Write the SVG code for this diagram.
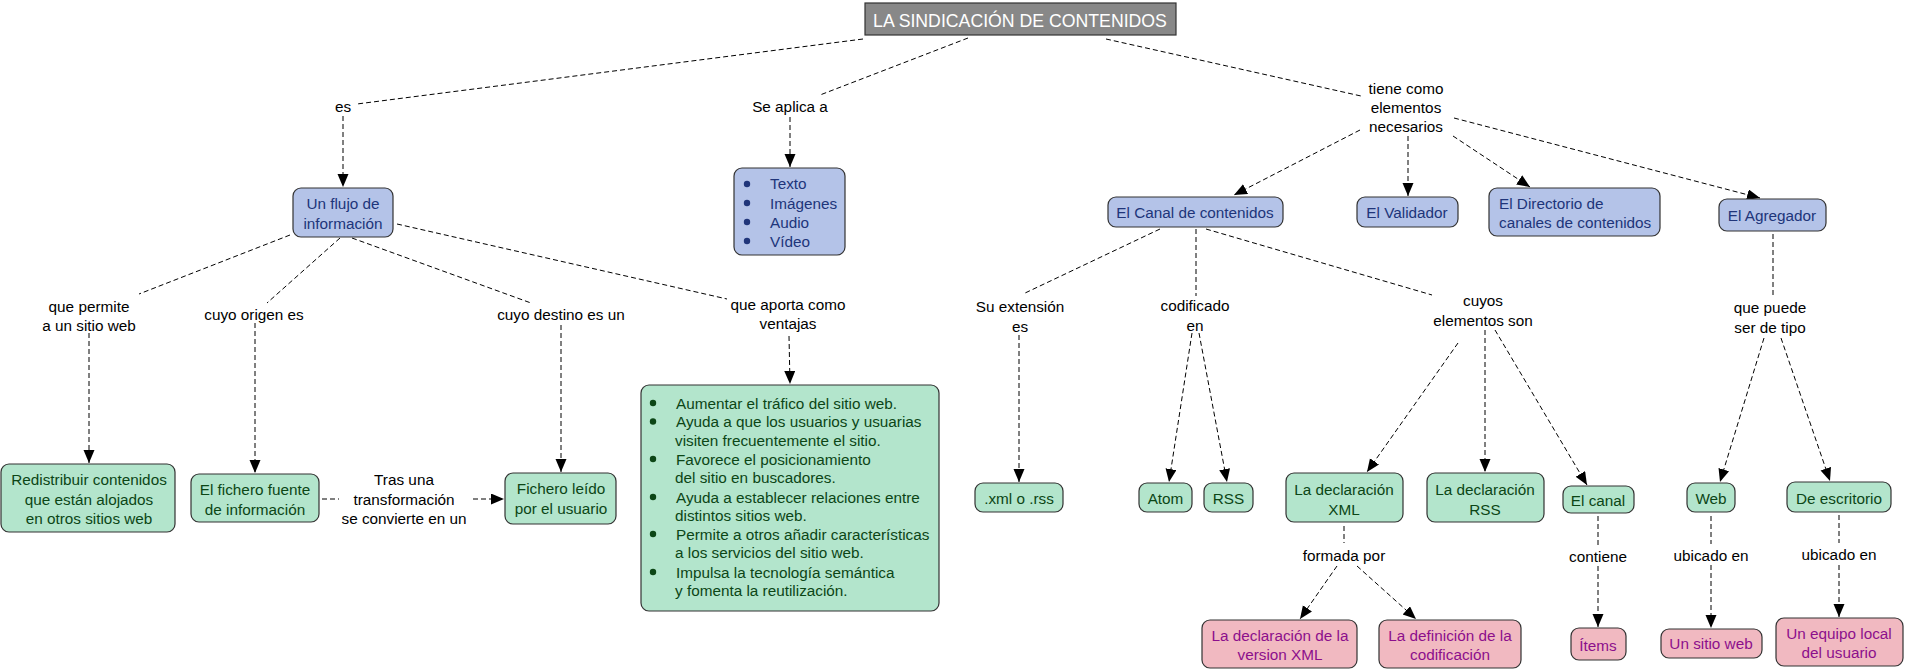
<svg xmlns="http://www.w3.org/2000/svg" width="1906" height="670" viewBox="0 0 1906 670">
<style>
text{font-family:"Liberation Sans",Arial,sans-serif;font-size:15.3px}
.m{text-anchor:middle}
.b rect{fill:#b4c3e8;stroke:#333;stroke-width:1.2}
.b text{fill:#20357a}
.b circle{fill:#20357a}
.g rect{fill:#b3e5cc;stroke:#333;stroke-width:1.2}
.g text{fill:#0c4616}
.g circle{fill:#0c4616}
.p rect{fill:#f1b9c1;stroke:#333;stroke-width:1.2}
.p text{fill:#8c0f8c}
.lk text{fill:#000}
#connectors line{stroke:#000;stroke-width:1;stroke-dasharray:5,3;fill:none}
#connectors line.a{marker-end:url(#ah)}
</style>
<defs>
<marker id="ah" markerUnits="userSpaceOnUse" markerWidth="14" markerHeight="12" refX="13" refY="5.5" orient="auto">
<path d="M0,0 L13,5.5 L0,11 z" fill="#000"/>
</marker>
</defs>
<rect width="1906" height="670" fill="#fff"/>
<g id="connectors">
<line x1="863" y1="39" x2="357" y2="104"/>
<line class="a" x1="343" y1="116" x2="343" y2="187"/>
<line x1="968" y1="38" x2="820" y2="95"/>
<line class="a" x1="790" y1="117" x2="790" y2="167"/>
<line x1="1106" y1="39" x2="1361" y2="96"/>
<line class="a" x1="1360" y1="130" x2="1234" y2="195"/>
<line class="a" x1="1408" y1="136" x2="1408" y2="196"/>
<line class="a" x1="1453" y1="136" x2="1530" y2="187"/>
<line class="a" x1="1454" y1="118" x2="1760" y2="198"/>
<line x1="290" y1="235" x2="139" y2="294"/>
<line class="a" x1="89" y1="333" x2="89" y2="463"/>
<line x1="340" y1="238" x2="267" y2="303"/>
<line class="a" x1="255" y1="323" x2="255" y2="473"/>
<line x1="352" y1="238" x2="531" y2="303"/>
<line class="a" x1="561" y1="325" x2="561" y2="472"/>
<line x1="397" y1="224" x2="727" y2="299"/>
<line class="a" x1="789" y1="336" x2="790" y2="384"/>
<line x1="322" y1="499" x2="339" y2="499"/>
<line class="a" x1="473" y1="499" x2="504" y2="499"/>
<line x1="1160" y1="229" x2="1023" y2="294"/>
<line class="a" x1="1019" y1="335" x2="1019" y2="482"/>
<line x1="1196" y1="229" x2="1196" y2="296"/>
<line class="a" x1="1192" y1="333" x2="1169" y2="482"/>
<line class="a" x1="1199" y1="333" x2="1227" y2="482"/>
<line x1="1206" y1="229" x2="1432" y2="295"/>
<line class="a" x1="1458" y1="343" x2="1367" y2="472"/>
<line class="a" x1="1485" y1="330" x2="1485" y2="472"/>
<line class="a" x1="1495" y1="330" x2="1587" y2="485"/>
<line x1="1344" y1="526" x2="1344" y2="543"/>
<line class="a" x1="1337" y1="566" x2="1300" y2="619"/>
<line class="a" x1="1357" y1="566" x2="1416" y2="619"/>
<line x1="1598" y1="516" x2="1598" y2="545"/>
<line class="a" x1="1598" y1="566" x2="1598" y2="627"/>
<line x1="1773" y1="234" x2="1773" y2="297"/>
<line class="a" x1="1764" y1="338" x2="1720" y2="482"/>
<line class="a" x1="1781" y1="338" x2="1830" y2="481"/>
<line x1="1711" y1="516" x2="1711" y2="544"/>
<line class="a" x1="1711" y1="565" x2="1711" y2="628"/>
<line x1="1839" y1="515" x2="1839" y2="543"/>
<line class="a" x1="1839" y1="565" x2="1839" y2="617"/>
</g>
<g id="title">
<rect x="865" y="3" width="311" height="32" fill="#888" stroke="#333" stroke-width="1.2"/>
<text class="m" x="1020" y="26.5" fill="#fff" style="font-size:17.7px">LA SINDICACIÓN DE CONTENIDOS</text>
</g>
<g id="lk-es" class="lk"><text class="m" x="343" y="111.5">es</text></g>
<g id="lk-seaplica" class="lk"><text class="m" x="790" y="111.5">Se aplica a</text></g>
<g id="lk-tiene" class="lk"><text class="m" x="1406" y="93.5">tiene como</text><text class="m" x="1406" y="112.5">elementos</text><text class="m" x="1406" y="131.5">necesarios</text></g>
<g id="n-flujo" class="b"><rect x="293" y="188" width="100" height="49" rx="8"/><text class="m" x="343" y="208.5">Un flujo de</text><text class="m" x="343" y="228.5">información</text></g>
<g id="n-medios" class="b"><rect x="734" y="168" width="111" height="87" rx="8"/>
<circle cx="747" cy="184" r="3.2"/><circle cx="747" cy="203" r="3.2"/><circle cx="747" cy="222" r="3.2"/><circle cx="747" cy="241" r="3.2"/>
<text x="770" y="189">Texto</text><text x="770" y="208.5">Imágenes</text><text x="770" y="227.5">Audio</text><text x="770" y="246.5">Vídeo</text></g>
<g id="n-canal" class="b"><rect x="1108" y="197" width="175" height="30" rx="8"/><text class="m" x="1195" y="217.5">El Canal de contenidos</text></g>
<g id="n-validador" class="b"><rect x="1357" y="197" width="101" height="30" rx="8"/><text class="m" x="1407" y="217.5">El Validador</text></g>
<g id="n-directorio" class="b"><rect x="1489" y="188" width="171" height="48" rx="8"/><text x="1499" y="208.5">El Directorio de</text><text x="1499" y="227.5">canales de contenidos</text></g>
<g id="n-agregador" class="b"><rect x="1719" y="199" width="107" height="32" rx="8"/><text class="m" x="1772" y="220.5">El Agregador</text></g>
<g id="lk-permite" class="lk"><text class="m" x="89" y="311.5">que permite</text><text class="m" x="89" y="330.5">a un sitio web</text></g>
<g id="lk-origen" class="lk"><text class="m" x="254" y="319.5">cuyo origen es</text></g>
<g id="lk-destino" class="lk"><text class="m" x="561" y="319.5">cuyo destino es un</text></g>
<g id="lk-aporta" class="lk"><text class="m" x="788" y="309.5">que aporta como</text><text class="m" x="788" y="328.5">ventajas</text></g>
<g id="lk-extension" class="lk"><text class="m" x="1020" y="311.5">Su extensión</text><text class="m" x="1020" y="331.5">es</text></g>
<g id="lk-codificado" class="lk"><text class="m" x="1195" y="310.5">codificado</text><text class="m" x="1195" y="330.5">en</text></g>
<g id="lk-cuyos" class="lk"><text class="m" x="1483" y="305.5">cuyos</text><text class="m" x="1483" y="325.5">elementos son</text></g>
<g id="lk-puede" class="lk"><text class="m" x="1770" y="312.5">que puede</text><text class="m" x="1770" y="332.5">ser de tipo</text></g>
<g id="n-redistribuir" class="g"><rect x="1" y="464" width="174" height="68" rx="8"/><text class="m" x="89" y="484.5">Redistribuir contenidos</text><text class="m" x="89" y="504.5">que están alojados</text><text class="m" x="89" y="523.5">en otros sitios web</text></g>
<g id="n-fuente" class="g"><rect x="191" y="474" width="128" height="48" rx="8"/><text class="m" x="255" y="494.5">El fichero fuente</text><text class="m" x="255" y="514.5">de información</text></g>
<g id="lk-tras" class="lk"><text class="m" x="404" y="484.5">Tras una</text><text class="m" x="404" y="504.5">transformación</text><text class="m" x="404" y="523.5">se convierte en un</text></g>
<g id="n-leido" class="g"><rect x="505" y="473" width="111" height="51" rx="8"/><text class="m" x="561" y="493.5">Fichero leído</text><text class="m" x="561" y="513.5">por el usuario</text></g>
<g id="n-ventajas" class="g"><rect x="641" y="385" width="298" height="226" rx="8"/>
<circle cx="653" cy="403" r="3.2"/><circle cx="653" cy="421.5" r="3.2"/><circle cx="653" cy="459" r="3.2"/><circle cx="653" cy="497" r="3.2"/><circle cx="653" cy="534" r="3.2"/><circle cx="653" cy="572" r="3.2"/>
<text x="676" y="408.5">Aumentar el tráfico del sitio web.</text>
<text x="676" y="427">Ayuda a que los usuarios y usuarias</text>
<text x="675" y="445.5">visiten frecuentemente el sitio.</text>
<text x="676" y="464.5">Favorece el posicionamiento</text>
<text x="675" y="483">del sitio en buscadores.</text>
<text x="676" y="502.5">Ayuda a establecer relaciones entre</text>
<text x="675" y="521">distintos sitios web.</text>
<text x="676" y="539.5">Permite a otros añadir características</text>
<text x="675" y="558">a los servicios del sitio web.</text>
<text x="676" y="577.5">Impulsa la tecnología semántica</text>
<text x="675" y="596">y fomenta la reutilización.</text></g>
<g id="n-xml" class="g"><rect x="975" y="483" width="88" height="29" rx="8"/><text class="m" x="1019" y="503.5">.xml o .rss</text></g>
<g id="n-atom" class="g"><rect x="1139" y="483" width="53" height="29" rx="8"/><text class="m" x="1165.5" y="503.5">Atom</text></g>
<g id="n-rss" class="g"><rect x="1204" y="483" width="49" height="29" rx="8"/><text class="m" x="1228.5" y="503.5">RSS</text></g>
<g id="n-declxml" class="g"><rect x="1286" y="473" width="117" height="49" rx="8"/><text class="m" x="1344" y="495">La declaración</text><text class="m" x="1344" y="514.5">XML</text></g>
<g id="n-declrss" class="g"><rect x="1427" y="473" width="117" height="49" rx="8"/><text class="m" x="1485" y="495">La declaración</text><text class="m" x="1485" y="514.5">RSS</text></g>
<g id="n-elcanal" class="g"><rect x="1563" y="486" width="71" height="27" rx="8"/><text class="m" x="1598" y="505.5">El canal</text></g>
<g id="n-web" class="g"><rect x="1687" y="483" width="48" height="29" rx="8"/><text class="m" x="1711" y="504">Web</text></g>
<g id="n-escritorio" class="g"><rect x="1787" y="482" width="104" height="30" rx="8"/><text class="m" x="1839" y="503.5">De escritorio</text></g>
<g id="lk-formada" class="lk"><text class="m" x="1344" y="560.5">formada por</text></g>
<g id="lk-contiene" class="lk"><text class="m" x="1598" y="561.5">contiene</text></g>
<g id="lk-ubicado1" class="lk"><text class="m" x="1711" y="560.5">ubicado en</text></g>
<g id="lk-ubicado2" class="lk"><text class="m" x="1839" y="559.5">ubicado en</text></g>
<g id="n-version" class="p"><rect x="1202" y="620" width="155" height="48" rx="8"/><text class="m" x="1280" y="640.5">La declaración de la</text><text class="m" x="1280" y="659.5">version XML</text></g>
<g id="n-codificacion" class="p"><rect x="1379" y="620" width="142" height="48" rx="8"/><text class="m" x="1450" y="640.5">La definición de la</text><text class="m" x="1450" y="659.5">codificación</text></g>
<g id="n-items" class="p"><rect x="1571" y="628" width="55" height="32" rx="8"/><text class="m" x="1598" y="650.5">Ítems</text></g>
<g id="n-sitioweb" class="p"><rect x="1661" y="629" width="101" height="29" rx="8"/><text class="m" x="1711" y="648.5">Un sitio web</text></g>
<g id="n-equipo" class="p"><rect x="1776" y="618" width="127" height="48" rx="8"/><text class="m" x="1839" y="638.5">Un equipo local</text><text class="m" x="1839" y="657.5">del usuario</text></g>
</svg>
